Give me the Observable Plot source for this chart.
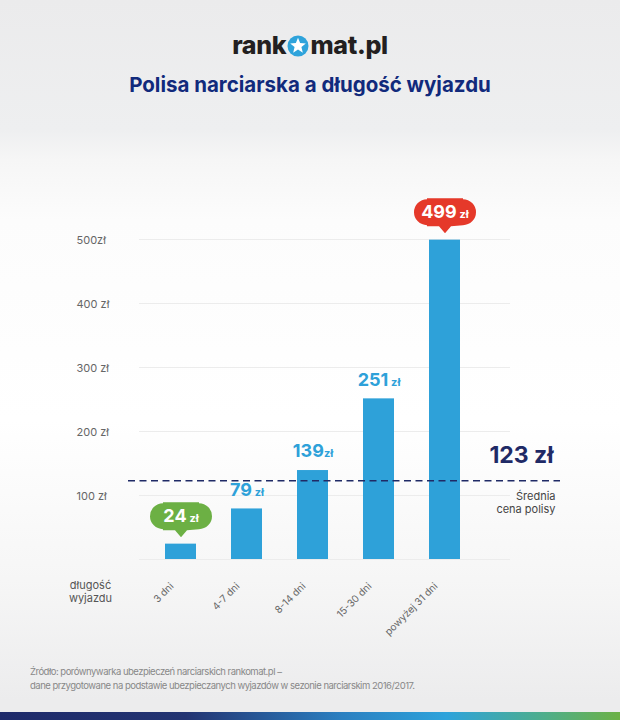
<!DOCTYPE html>
<html>
<head>
<meta charset="utf-8">
<script src="https://cdn.jsdelivr.net/npm/d3@7"></script>
<script src="https://cdn.jsdelivr.net/npm/@observablehq/plot@0.6"></script>
<style>
  html, body { margin: 0; padding: 0; }
  body { width: 620px; height: 720px; overflow: hidden; font-family: Inter, "Open Sans", sans-serif; }
  #wrap { position: relative; width: 620px; height: 720px;
    background: linear-gradient(180deg, #ebebec 0px, #eeeff0 130px, #f6f6f6 160px, #fcfcfc 220px, #ffffff 420px, #f6f6f6 580px, #ececed 700px); }
  #logo { position: absolute; top: 30px; left: 0; width: 620px; text-align: center;
    font-size: 25px; font-weight: 800; color: #231f20; letter-spacing: -0.3px; line-height: 30px; }
  #logo svg { vertical-align: -3px; margin: 0 1px; }
  #title { position: absolute; top: 72px; left: 0; width: 620px; text-align: center;
    font-size: 20.5px; font-weight: 700; color: #112a7c; }
  #chart { position: absolute; top: 130px; left: 0; }
  #foot { position: absolute; top: 665px; left: 30px; font-size: 9.5px; color: #888; line-height: 13.5px; letter-spacing: -0.5px; }
  #stripe { position: absolute; left: 0; top: 712px; width: 620px; height: 8px;
    background: linear-gradient(90deg, #1e2a6a 0%, #233472 30%, #2b7fc0 55%, #2ea3db 72%, #4fae8a 88%, #6cb146 100%); }
</style>
</head>
<body>
<div id="wrap">
  <div id="logo">rank<svg width="22" height="22" viewBox="-11 -11 22 22"><circle r="10.5" fill="#2ea3db"/><path id="star" fill="#fff"/></svg>mat.pl</div>
  <div id="title">Polisa narciarska a długość wyjazdu</div>
  <div id="chart"></div>
  <div id="foot">Źródło: porównywarka ubezpieczeń narciarskich rankomat.pl –<br>dane przygotowane na podstawie ubezpieczanych wyjazdów w sezonie narciarskim 2016/2017.</div>
  <div id="stripe"></div>
</div>
<script>
// ---- data ----
const categories = ["3 dni", "4-7 dni", "8-14 dni", "15-30 dni", "powyżej 31 dni"];
const prices = [24, 79, 139, 251, 499];
const priceLabels = ["24 zł", "79 zł", "139zł", "251 zł", "499 zł"];
const averagePrice = 123;
const averageLabel = "123 zł";
const averageNote = "Średnia\ncena polisy";
const yTicks = [100, 200, 300, 400, 500];
const yTickLabels = ["100 zł", "200 zł", "300 zł", "400 zł", "500zł"];
const xAxisTitle = "długość\nwyjazdu";

// star for logo
(function(){
  const pts = [];
  for (let i = 0; i < 10; i++) {
    const a = -Math.PI / 2 + i * Math.PI / 5;
    const r = i % 2 ? 3.6 : 8.2;
    pts.push((r * Math.cos(a)).toFixed(2) + "," + (r * Math.sin(a)).toFixed(2));
  }
  document.getElementById("star").setAttribute("d", "M" + pts.join("L") + "Z");
})();

const data = categories.map((c, i) => ({cat: c, price: prices[i], label: priceLabels[i]}));
const minD = d3.least(data, d => d.price);
const maxD = d3.greatest(data, d => d.price);
const plain = data.filter(d => d !== minD && d !== maxD);

const BLUE = "#2ea1d9", GREEN = "#6cb044", RED = "#e5392a", NAVY = "#1f2a66";

// speech-bubble symbol (ignores size): pill above the anchor with a pointer down
const bubble = {
  draw(ctx) {
    const w = 62, h = 28, r = 13, cy = -28, tip = -7, pw = 6;
    const top = cy - h / 2, bot = cy + h / 2;
    ctx.moveTo(-w / 2 + r, top);
    ctx.lineTo(w / 2 - r, top);
    ctx.arc(w / 2 - r, cy, r, -Math.PI / 2, 0);
    ctx.lineTo(w / 2, cy);
    ctx.arc(w / 2 - r, cy, r, 0, Math.PI / 2);
    ctx.lineTo(pw, bot);
    ctx.lineTo(0, tip);
    ctx.lineTo(-pw, bot);
    ctx.lineTo(-w / 2 + r, bot);
    ctx.arc(-w / 2 + r, cy, r, Math.PI / 2, Math.PI);
    ctx.lineTo(-w / 2, cy);
    ctx.arc(-w / 2 + r, cy, r, Math.PI, 1.5 * Math.PI);
    ctx.closePath();
  }
};

// make the "zł" part smaller
function smallUnit(index, scales, values, dims, ctx, next) {
  const g = next(index, scales, values, dims, ctx);
  g.querySelectorAll("text").forEach(t => {
    const m = t.textContent.match(/^(\d+)(\s?)(zł)$/);
    if (m) {
      t.textContent = m[1] + (m[2] ? "\u2009" : "");
      const ts = document.createElementNS("http://www.w3.org/2000/svg", "tspan");
      ts.setAttribute("font-size", "11");
      ts.textContent = m[3];
      t.appendChild(ts);
    }
  });
  return g;
}

const chart = Plot.plot({
  width: 620,
  height: 520,
  marginLeft: 139,
  marginRight: 110,
  marginTop: 109,
  marginBottom: 91,
  style: {fontFamily: "Inter, 'Open Sans', sans-serif", background: "transparent", overflow: "visible"},
  x: {type: "band", domain: categories, range: [130, 495], padding: 0.53, axis: null},
  y: {domain: [0, 500], axis: null},
  marks: [
    Plot.ruleY([0, ...yTicks], {stroke: "#ececec", strokeWidth: 1}),
    Plot.text(yTicks, {y: d => d, text: (d, i) => yTickLabels[i], frameAnchor: "left", textAnchor: "start", dx: -63, dy: 1, fill: "#666", fontSize: 11}),
    Plot.barY(data, {x: "cat", y: "price", fill: BLUE}),
    Plot.ruleY([averagePrice], {stroke: NAVY, strokeWidth: 1.5, strokeDasharray: "7,4.5", insetLeft: -11, insetRight: -50}),
    Plot.text([averagePrice], {y: d => d, text: () => averageLabel, frameAnchor: "right", textAnchor: "end", dx: 43, dy: -25, fill: NAVY, fontSize: 23, fontWeight: 700}),
    Plot.text([averagePrice], {y: d => d, text: () => averageNote, frameAnchor: "right", textAnchor: "end", lineAnchor: "top", dx: 45, dy: 10, fill: "#444", fontSize: 11, lineHeight: 1.2}),
    Plot.text(plain, {x: "cat", y: "price", text: "label", dy: -19, fill: BLUE, fontSize: 18, fontWeight: 700, render: smallUnit}),
    Plot.dot([minD], {x: "cat", y: "price", symbol: bubble, fill: GREEN}),
    Plot.dot([maxD], {x: "cat", y: "price", symbol: bubble, fill: RED}),
    Plot.text([minD, maxD], {x: "cat", y: "price", text: "label", dy: -28, fill: "white", fontSize: 18, fontWeight: 700, render: smallUnit}),
    Plot.text(categories, {x: d => d, frameAnchor: "bottom", textAnchor: "end", lineAnchor: "middle", rotate: -45, dx: -9, dy: 25, fill: "#666", fontSize: 10}),
    Plot.text([xAxisTitle], {frameAnchor: "bottom-left", textAnchor: "middle", lineAnchor: "middle", dx: -49, dy: 32, fill: "#555", fontSize: 11, lineHeight: 1.18})
  ]
});
document.getElementById("chart").appendChild(chart);
</script>
</body>
</html>
